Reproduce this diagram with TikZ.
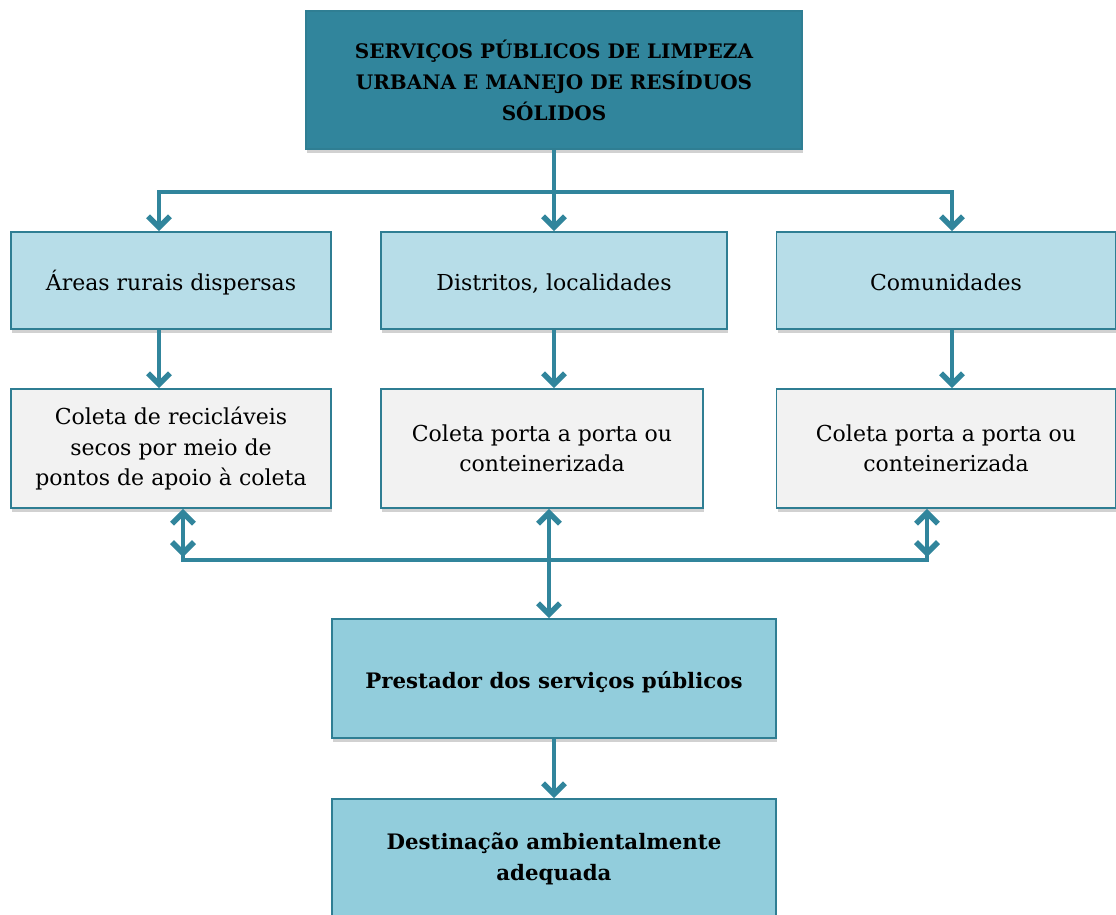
\documentclass[tikz,border=0pt]{standalone}
\usepackage{fontspec}
\setmainfont{DejaVu Serif}
\usetikzlibrary{arrows.meta,shadows}
\definecolor{teal1}{HTML}{31859C}
\definecolor{edge1}{HTML}{2F7E93}
\definecolor{lightb}{HTML}{B7DDE8}
\definecolor{midb}{HTML}{92CDDC}
\definecolor{greyf}{HTML}{F2F2F2}
\tikzset{
  box/.style={draw=edge1, line width=1.6pt, align=center, inner sep=0pt,
    font=\fontsize{22}{30.5}\selectfont,
    drop shadow={shadow xshift=1pt, shadow yshift=-4pt, fill=black!18, opacity=1}},
  oneline/.style={text height=20pt, text depth=0pt},
  boldtxt/.style={font=\fontsize{21.3}{30.5}\selectfont\bfseries},
  conn/.style={draw=teal1, line width=4.5pt},
  arr/.style={conn, -{Straight Barb[length=11pt,width=22pt,line width=5.5pt]}},
  dbl/.style={conn, {Straight Barb[length=11pt,width=22pt,line width=5.5pt]}-{Straight Barb[length=11pt,width=22pt,line width=5.5pt]}}
}
\begin{document}
\begin{tikzpicture}[x=1pt,y=-1pt]
\useasboundingbox (0,0) rectangle (1116,914);
\clip (0,0) rectangle (1116,914);
% boxes
\node[box, fill=teal1, minimum width=496pt, minimum height=138pt, font=\fontsize{20}{31}\selectfont\bfseries] (top) at (554,80)
  {SERVIÇOS PÚBLICOS DE LIMPEZA\\URBANA E MANEJO DE RESÍDUOS\\SÓLIDOS};
\node[box, oneline, fill=lightb, minimum width=320pt, minimum height=97pt] (a2) at (171,280.5) {Áreas rurais dispersas};
\node[box, oneline, fill=lightb, minimum width=346pt, minimum height=97pt] (b2) at (554,280.5) {Distritos, localidades};
\node[box, oneline, fill=lightb, minimum width=339pt, minimum height=97pt] (c2) at (946,280.5) {Comunidades};
\node[box, fill=greyf, minimum width=320pt, minimum height=119pt] (a3) at (171,448.5) {Coleta de recicláveis\\secos por meio de\\pontos de apoio à coleta};
\node[box, fill=greyf, minimum width=322pt, minimum height=119pt] (b3) at (542,448.5) {Coleta porta a porta ou\\conteinerizada};
\node[box, fill=greyf, minimum width=339pt, minimum height=119pt] (c3) at (946,448.5) {Coleta porta a porta ou\\conteinerizada};
\node[box, oneline, fill=midb, minimum width=444pt, minimum height=119pt, boldtxt] (p) at (554,678.5) {Prestador dos serviços públicos};
\node[box, fill=midb, minimum width=444pt, minimum height=120pt, boldtxt] (d) at (554,859) {Destinação ambientalmente\\adequada};
% connectors from top
\coordinate (j) at (554,192);
\coordinate (jl) at (159,192);
\coordinate (jr) at (952,192);
\draw[conn, line join=miter] (top.south) -- (j);
\draw[arr, line join=miter] (j) -- (jl) -- (jl |- a2.north);
\draw[arr, line join=miter] (j) -- (jr) -- (jr |- c2.north);
\draw[arr] (j) -- (b2.north);
% row 2 to row 3
\draw[arr] (jl |- a2.south) -- (jl |- a3.north);
\draw[arr] (b2.south) -- (b2.south |- b3.north);
\draw[arr] (jr |- c2.south) -- (jr |- c3.north);
% double arrows and collector
\coordinate (ql) at (183,560);
\coordinate (qr) at (927,560);
\coordinate (qm) at (549,560);
\draw[conn, line join=miter] (183,540) -- (ql) -- (qr) -- (927,540);
\draw[dbl] (ql |- a3.south) -- (183,557);
\draw[dbl] (qr |- c3.south) -- (927,557);
\draw[dbl] (qm |- b3.south) -- (qm |- p.north);
% to destination
\draw[arr] (p.south) -- (d.north);
\end{tikzpicture}
\end{document}
